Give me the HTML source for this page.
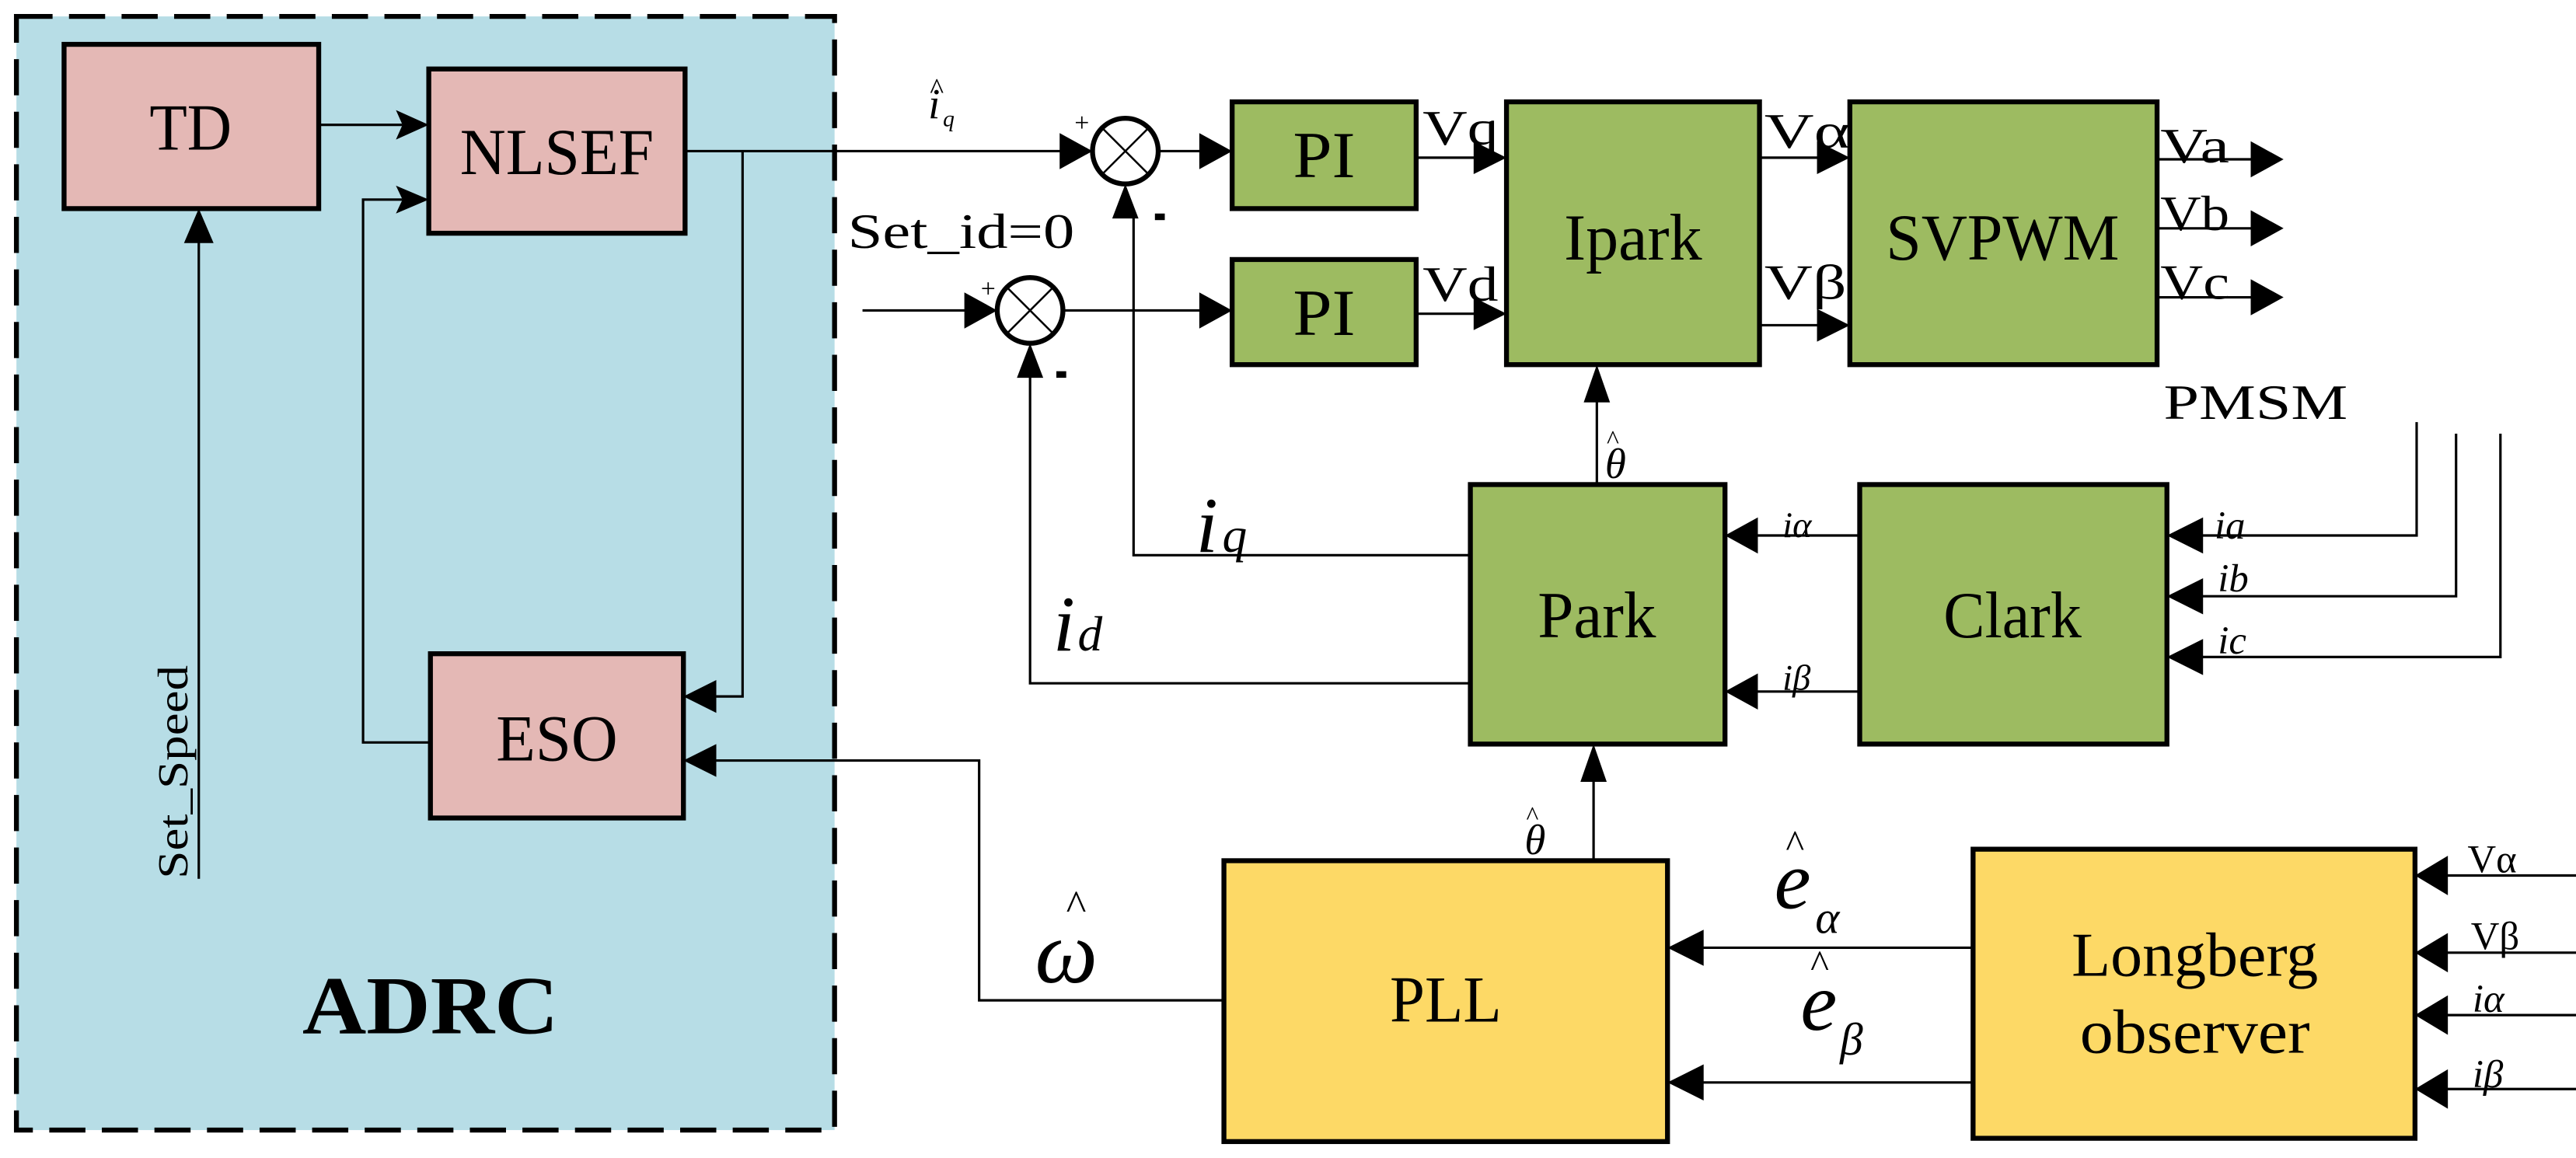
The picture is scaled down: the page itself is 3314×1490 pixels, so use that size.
<!DOCTYPE html>
<html><head><meta charset="utf-8"><style>html,body{margin:0;padding:0;background:#fff}svg{display:block}text{font-family:"Liberation Serif",serif;fill:#000}</style></head>
<body>
<svg width="3314" height="1490" viewBox="0 0 1568 705" preserveAspectRatio="none" xmlns="http://www.w3.org/2000/svg">
<rect x="10" y="10" width="498" height="678" fill="#b7dde6"/>
<rect x="10" y="10" width="498" height="678" fill="none" stroke="#000" stroke-width="3" stroke-dasharray="22,10"/>
<g stroke="#000" stroke-width="3">
<rect x="39" y="27" width="155" height="100" fill="#e4b8b5"/>
<rect x="261" y="42" width="156" height="100" fill="#e4b8b5"/>
<rect x="262" y="398" width="154" height="100" fill="#e4b8b5"/>
<rect x="750" y="62" width="112" height="65" fill="#9dbb61"/>
<rect x="750" y="158" width="112" height="64" fill="#9dbb61"/>
<rect x="917" y="62" width="154" height="160" fill="#9dbb61"/>
<rect x="1126" y="62" width="187" height="160" fill="#9dbb61"/>
<rect x="895" y="295" width="155" height="158" fill="#9dbb61"/>
<rect x="1132" y="295" width="187" height="158" fill="#9dbb61"/>
<rect x="745" y="524" width="270" height="171" fill="#fdd966"/>
<rect x="1201" y="517" width="269" height="176" fill="#fdd966"/>
<circle cx="685" cy="92" r="20" fill="#fff"/>
<circle cx="627" cy="189" r="20" fill="#fff"/>
</g>
<g stroke="#000" stroke-width="1.2">
<line x1="671" y1="78" x2="699" y2="106"/><line x1="699" y1="78" x2="671" y2="106"/>
<line x1="613" y1="175" x2="641" y2="203"/><line x1="641" y1="175" x2="613" y2="203"/>
</g>
<g stroke="#000" stroke-width="1.5" fill="none">
<line x1="194" y1="76" x2="245" y2="76"/>
<polyline points="262,452 221,452 221,121.5 245,121.5"/>
<line x1="121" y1="535" x2="121" y2="145"/>
<line x1="417" y1="92" x2="647" y2="92"/>
<polyline points="452,92 452,424 434,424"/>
<line x1="705" y1="92" x2="732" y2="92"/>
<line x1="525" y1="189" x2="589" y2="189"/>
<line x1="647" y1="189" x2="732" y2="189"/>
<line x1="862" y1="96" x2="900" y2="96"/>
<line x1="862" y1="191" x2="900" y2="191"/>
<line x1="1071" y1="96" x2="1108" y2="96"/>
<line x1="1071" y1="198" x2="1108" y2="198"/>
<line x1="1313" y1="97" x2="1372" y2="97"/>
<line x1="1313" y1="139" x2="1372" y2="139"/>
<line x1="1313" y1="181" x2="1372" y2="181"/>
<line x1="972" y1="295" x2="972" y2="240"/>
<polyline points="1471,257 1471,326 1337,326"/>
<polyline points="1495,264 1495,363 1337,363"/>
<polyline points="1522,264 1522,400 1337,400"/>
<line x1="1132" y1="326" x2="1068" y2="326"/>
<line x1="1132" y1="421" x2="1068" y2="421"/>
<polyline points="895,338 690,338 690,130"/>
<polyline points="895,416 627,416 627,227"/>
<polyline points="745,609 596,609 596,463 434,463"/>
<line x1="970" y1="524" x2="970" y2="472"/>
<line x1="1201" y1="577" x2="1033" y2="577"/>
<line x1="1201" y1="659" x2="1033" y2="659"/>
<line x1="1568" y1="533" x2="1488" y2="533"/>
<line x1="1568" y1="580" x2="1488" y2="580"/>
<line x1="1568" y1="618" x2="1488" y2="618"/>
<line x1="1568" y1="663" x2="1488" y2="663"/>
</g>
<g fill="#000">
<polygon points="261,76 241,67 245,76 241,85"/>
<polygon points="261,121.5 241,113 245,121.5 241,130"/>
<polygon points="121,127 112,148 130,148"/>
<polygon points="416,424 436,414 436,434"/>
<polygon points="416,463 436,453 436,473"/>
<polygon points="665,92 645,81 645,103"/>
<polygon points="607,189 587,178 587,200"/>
<polygon points="685,112 677,133 693,133"/>
<polygon points="627,209 619,230 635,230"/>
<polygon points="750,92 730,81 730,103"/>
<polygon points="750,189 730,178 730,200"/>
<polygon points="917,96 897,86 897,106"/>
<polygon points="917,191 897,181 897,201"/>
<polygon points="1126,96 1106,86 1106,106"/>
<polygon points="1126,198 1106,188 1106,208"/>
<polygon points="1390,97 1370,86 1370,108"/>
<polygon points="1390,139 1370,128 1370,150"/>
<polygon points="1390,181 1370,170 1370,192"/>
<polygon points="972,222 964,245 980,245"/>
<polygon points="970,453 962,476 978,476"/>
<polygon points="1319,326 1341,315 1341,337"/>
<polygon points="1319,363 1341,352 1341,374"/>
<polygon points="1319,400 1341,389 1341,411"/>
<polygon points="1050,326 1070,315 1070,337"/>
<polygon points="1050,421 1070,410 1070,432"/>
<polygon points="1015,577 1037,566 1037,588"/>
<polygon points="1015,659 1037,648 1037,670"/>
<polygon points="1470,533 1490,521 1490,545"/>
<polygon points="1470,580 1490,568 1490,592"/>
<polygon points="1470,618 1490,606 1490,630"/>
<polygon points="1470,663 1490,651 1490,675"/>
<rect x="703" y="130" width="6" height="4"/>
<rect x="643" y="226" width="6" height="4"/>
</g>
<g font-size="40" text-anchor="middle">
<text x="116" y="91" textLength="50" lengthAdjust="spacingAndGlyphs">TD</text>
<text x="339" y="106" textLength="118" lengthAdjust="spacingAndGlyphs">NLSEF</text>
<text x="339" y="463" textLength="74" lengthAdjust="spacingAndGlyphs">ESO</text>
<text x="806" y="108" textLength="38" lengthAdjust="spacingAndGlyphs">PI</text>
<text x="806" y="204" textLength="38" lengthAdjust="spacingAndGlyphs">PI</text>
<text x="994" y="158" textLength="84" lengthAdjust="spacingAndGlyphs">Ipark</text>
<text x="1219" y="158" textLength="142" lengthAdjust="spacingAndGlyphs">SVPWM</text>
<text x="972" y="388" textLength="72" lengthAdjust="spacingAndGlyphs">Park</text>
<text x="1225" y="388" textLength="84" lengthAdjust="spacingAndGlyphs">Clark</text>
<text x="880" y="622" textLength="68" lengthAdjust="spacingAndGlyphs">PLL</text>
<text x="1336" y="594" font-size="38" textLength="150" lengthAdjust="spacingAndGlyphs">Longberg</text>
<text x="1336" y="641" font-size="38" textLength="140" lengthAdjust="spacingAndGlyphs">observer</text>
<text x="262" y="629" font-size="50" font-weight="bold" textLength="156" lengthAdjust="spacingAndGlyphs">ADRC</text>
</g>
<g font-size="30">
<text x="516" y="151" textLength="138" lengthAdjust="spacingAndGlyphs">Set_id=0</text>
<text x="1317" y="255" textLength="112" lengthAdjust="spacingAndGlyphs">PMSM</text>
<text x="866" y="88" textLength="46" lengthAdjust="spacingAndGlyphs">Vq</text>
<text x="866" y="183" textLength="46" lengthAdjust="spacingAndGlyphs">Vd</text>
<text x="1074" y="90" textLength="52" lengthAdjust="spacingAndGlyphs">Vα</text>
<text x="1074" y="182" textLength="50" lengthAdjust="spacingAndGlyphs">Vβ</text>
<text x="1315" y="99" textLength="42" lengthAdjust="spacingAndGlyphs">Va</text>
<text x="1315" y="140" textLength="42" lengthAdjust="spacingAndGlyphs">Vb</text>
<text x="1315" y="182" textLength="42" lengthAdjust="spacingAndGlyphs">Vc</text>
<text x="1502" y="531" font-size="24">Vα</text>
<text x="1504" y="578" font-size="24">Vβ</text>
<text x="597" y="181" font-size="16">+</text>
<text x="654" y="80" font-size="16">+</text>
</g>
<text transform="translate(114,535) rotate(-90)" font-size="26" textLength="130" lengthAdjust="spacingAndGlyphs">Set_Speed</text>
<g font-style="italic">
<text x="565" y="72" font-size="26">i</text><text x="566" y="60" font-size="18" font-style="normal">^</text><text x="574" y="77" font-size="14">q</text>
<text x="728" y="336" font-size="48">i</text><text x="744" y="336" font-size="30">q</text>
<text x="641" y="396" font-size="48">i</text><text x="656" y="396" font-size="30">d</text>
<text x="977" y="291" font-size="26">θ</text><text x="978" y="273" font-size="16" font-style="normal">^</text>
<text x="928" y="520" font-size="26">θ</text><text x="929" y="502" font-size="16" font-style="normal">^</text>
<text x="1085" y="327" font-size="22">iα</text>
<text x="1085" y="420" font-size="22">iβ</text>
<text x="1348" y="328" font-size="24">ia</text>
<text x="1350" y="360" font-size="24">ib</text>
<text x="1350" y="398" font-size="24">ic</text>
<text x="1505" y="616" font-size="24">iα</text>
<text x="1505" y="662" font-size="24">iβ</text>
<text x="630" y="598" font-size="54">ω</text><text x="649" y="560" font-size="26" font-style="normal">^</text>
<text x="1080" y="553" font-size="50">e</text><text x="1087" y="522" font-size="24" font-style="normal">^</text><text x="1105" y="568" font-size="28">α</text>
<text x="1096" y="627" font-size="50">e</text><text x="1102" y="595" font-size="24" font-style="normal">^</text><text x="1120" y="642" font-size="28">β</text>
</g>
</svg>
</body></html>
